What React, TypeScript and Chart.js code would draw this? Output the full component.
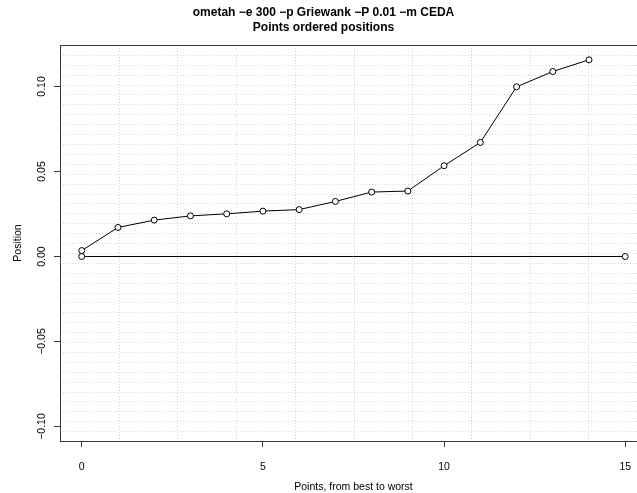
import React, { useEffect, useRef } from "react";
import { Chart, registerables } from "chart.js";

Chart.register(...registerables);

// Text
const TITLE_LINES = ["ometah \u2212e 300 \u2212p Griewank \u2212P 0.01 \u2212m CEDA", "Points ordered positions"];
const X_TITLE = "Points, from best to worst";
const Y_TITLE = "Position";

// Points, ordered from best (rank 0) to worst (rank 14)
const pointRanks = [0, 1, 2, 3, 4, 5, 6, 7, 8, 9, 10, 11, 12, 13, 14];
const orderedPositions = [
  0.0035, 0.0171, 0.0214, 0.0239, 0.0251, 0.0267, 0.0276, 0.0324,
  0.0379, 0.0385, 0.0534, 0.0671, 0.0998, 0.1088, 0.1157,
];

// Reference line at zero
const zeroRanks = [0, 15];
const zeroPositions = [0, 0];

// Axes
const xTicks = [0, 5, 10, 15];
const yTicks = [-0.1, -0.05, 0, 0.05, 0.1];
const xLimits = [-0.6, 15.6];
const yLimits = [-0.1085, 0.1244];
const gridDivisionsX = 10;
const gridDivisionsY = 40;

const FONT = "'Liberation Sans', Arial, Helvetica, sans-serif";
const INK = "#000000";
const FRAME = "#3a3a3a";

const minus = (s: string) => s.replace("-", "\u2212");

// Dotted background grid and the surrounding box
const boxAndGrid = {
  id: "boxAndGrid",
  beforeDatasetsDraw(chart: any) {
    const { ctx, chartArea: a, scales } = chart;
    const xs = scales.x;
    const ys = scales.y;
    ctx.save();
    ctx.strokeStyle = "#d4d4d4";
    ctx.lineWidth = 1;
    ctx.setLineDash([1, 2]);
    ctx.beginPath();
    for (let k = 1; k < gridDivisionsX; k++) {
      const v = xLimits[0] + ((xLimits[1] - xLimits[0]) * k) / gridDivisionsX;
      const px = Math.round(xs.getPixelForValue(v)) + 0.5;
      ctx.moveTo(px, a.top);
      ctx.lineTo(px, a.bottom);
    }
    for (let k = 1; k < gridDivisionsY; k++) {
      const v = yLimits[0] + ((yLimits[1] - yLimits[0]) * k) / gridDivisionsY;
      const py = Math.round(ys.getPixelForValue(v)) + 0.5;
      ctx.moveTo(a.left, py);
      ctx.lineTo(a.right, py);
    }
    ctx.stroke();
    ctx.restore();
  },
  afterDatasetsDraw(chart: any) {
    const { ctx, chartArea: a } = chart;
    ctx.save();
    ctx.strokeStyle = FRAME;
    ctx.lineWidth = 1;
    ctx.setLineDash([]);
    const l = Math.round(a.left) + 0.5;
    const t = Math.round(a.top) + 0.5;
    const r = Math.round(a.right) + 0.5;
    const b = Math.round(a.bottom) + 0.5;
    ctx.strokeRect(l, t, r - l, b - t);
    ctx.restore();
  },
};

export default function App() {
  const canvasRef = useRef<HTMLCanvasElement | null>(null);

  useEffect(() => {
    if (!canvasRef.current) return;
    const chart = new Chart(canvasRef.current, {
      type: "line",
      data: {
        datasets: [
          {
            label: "positions",
            data: pointRanks.map((r, i) => ({ x: r, y: orderedPositions[i] })),
            borderColor: INK,
            borderWidth: 1,
            pointRadius: 3,
            pointBorderWidth: 1,
            pointBorderColor: INK,
            pointBackgroundColor: "#ffffff",
            tension: 0,
          },
          {
            label: "zero",
            data: zeroRanks.map((r, i) => ({ x: r, y: zeroPositions[i] })),
            borderColor: INK,
            borderWidth: 1,
            pointRadius: 3,
            pointBorderWidth: 1,
            pointBorderColor: INK,
            pointBackgroundColor: "#ffffff",
            tension: 0,
          },
        ],
      },
      options: {
        animation: false,
        responsive: false,
        maintainAspectRatio: false,
        layout: { padding: { left: 0, right: 61, top: 0, bottom: 0 } },
        plugins: {
          legend: { display: false },
          tooltip: { enabled: false },
          title: {
            display: true,
            text: TITLE_LINES,
            color: INK,
            font: { family: FONT, size: 12, weight: "bold", lineHeight: 1.25 },
            padding: { top: 5, bottom: 10 },
          },
        },
        scales: {
          x: {
            type: "linear",
            position: "bottom",
            min: xLimits[0],
            max: xLimits[1],
            afterBuildTicks: (s: any) => {
              s.ticks = xTicks.map((v) => ({ value: v }));
            },
            afterFit: (s: any) => {
              s.height = 52;
            },
            ticks: {
              color: INK,
              font: { family: FONT, size: 10.5 },
              padding: 14,
              maxRotation: 0,
              autoSkip: false,
              callback: (v: any) => minus(String(v)),
            },
            grid: {
              display: true,
              drawOnChartArea: false,
              drawTicks: true,
              tickLength: 6,
              tickColor: FRAME,
              tickWidth: 1,
            },
            border: { display: false },
            title: {
              display: true,
              text: X_TITLE,
              color: INK,
              font: { family: FONT, size: 10.5 },
              padding: { top: 0, bottom: 0 },
            },
          },
          y: {
            type: "linear",
            position: "left",
            min: yLimits[0],
            max: yLimits[1],
            afterBuildTicks: (s: any) => {
              s.ticks = yTicks.map((v) => ({ value: v }));
            },
            afterFit: (s: any) => {
              s.width = 60;
            },
            ticks: {
              color: INK,
              font: { family: FONT, size: 10.5 },
              padding: -1.5,
              minRotation: 90,
              maxRotation: 90,
              crossAlign: "center",
              autoSkip: false,
              callback: (v: any) => minus(Number(v).toFixed(2)),
            },
            grid: {
              display: true,
              drawOnChartArea: false,
              drawTicks: true,
              tickLength: 6,
              tickColor: FRAME,
              tickWidth: 1,
            },
            border: { display: false },
            title: {
              display: true,
              text: Y_TITLE,
              color: INK,
              font: { family: FONT, size: 10.5 },
              padding: { top: 12, bottom: 0 },
            },
          },
        },
      },
      plugins: [boxAndGrid],
    });
    return () => chart.destroy();
  }, []);

  return (
    <div
      style={{
        position: "fixed",
        left: 0,
        top: 0,
        width: 637,
        height: 493,
        overflow: "hidden",
        background: "#ffffff",
      }}
    >
      <canvas ref={canvasRef} width={708} height={493} style={{ display: "block" }} />
    </div>
  );
}
